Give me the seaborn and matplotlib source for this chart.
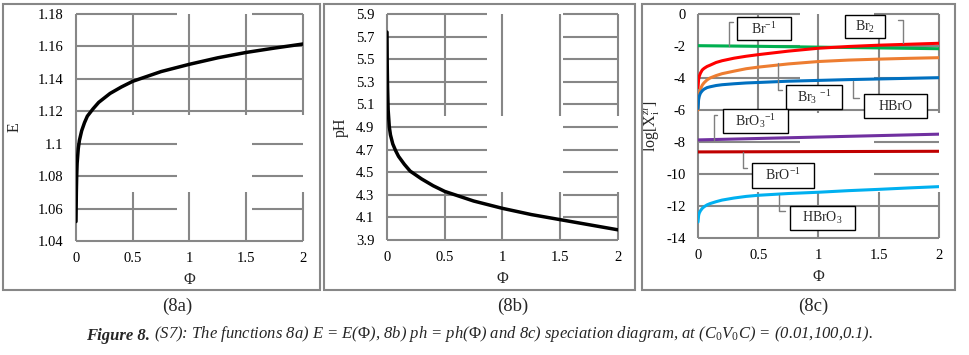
import numpy as np
import pandas as pd
import matplotlib
matplotlib.use("Agg")
import matplotlib.pyplot as plt
import seaborn as sns
from matplotlib.patches import Rectangle

# ---------------- data ----------------
phi_a = [0, 0.003, 0.006, 0.01, 0.02, 0.03, 0.05, 0.075, 0.1, 0.15, 0.2, 0.3,
         0.4, 0.5, 0.75, 1.0, 1.25, 1.5, 1.75, 2.0]
E_vals = [1.052, 1.070, 1.080, 1.088, 1.097, 1.102, 1.108, 1.113, 1.117, 1.1215,
          1.1255, 1.131, 1.135, 1.1385, 1.1445, 1.149, 1.153, 1.1563, 1.159, 1.1615]

phi_b = [0, 0.002, 0.005, 0.01, 0.02, 0.03, 0.05, 0.075, 0.1, 0.15, 0.2, 0.3,
         0.4, 0.5, 0.75, 1.0, 1.25, 1.5, 1.75, 2.0]
pH_vals = [5.74, 5.45, 5.25, 5.05, 4.90, 4.83, 4.75, 4.69, 4.64, 4.57, 4.51, 4.44,
           4.38, 4.33, 4.245, 4.18, 4.125, 4.08, 4.035, 3.99]

phi_c = [0, 0.005, 0.01, 0.02, 0.035, 0.05, 0.075, 0.1, 0.15, 0.2, 0.3, 0.4,
         0.5, 0.75, 1.0, 1.25, 1.5, 1.75, 2.0]
log_Br2 = [-4.6, -4.1, -3.9, -3.7, -3.5, -3.4, -3.28, -3.2, -3.03, -2.92, -2.76,
           -2.64, -2.54, -2.32, -2.14, -2.03, -1.95, -1.89, -1.83]
log_Br3 = [-6.0, -5.2, -4.95, -4.7, -4.45, -4.3, -4.12, -4.0, -3.85, -3.73, -3.57,
           -3.42, -3.32, -3.12, -2.97, -2.88, -2.82, -2.77, -2.73]
log_HBrO = [-5.9, -5.35, -5.15, -4.95, -4.8, -4.7, -4.6, -4.55, -4.47, -4.42, -4.36,
            -4.31, -4.28, -4.2, -4.15, -4.1, -4.06, -4.02, -3.98]
log_HBrO3 = [-13.0, -12.6, -12.45, -12.3, -12.15, -12.05, -11.93, -11.85, -11.73,
             -11.63, -11.5, -11.4, -11.33, -11.22, -11.14, -11.04, -10.96, -10.87, -10.79]
phi_flat = [0, 0.5, 1.0, 1.5, 2.0]
log_Br = [-1.98, -2.02, -2.07, -2.12, -2.17]
log_BrO3 = [-7.87, -7.78, -7.69, -7.60, -7.51]
log_BrO = [-8.62, -8.61, -8.60, -8.59, -8.58]

x_ticks = [0, 0.5, 1, 1.5, 2]
x_labels = ["0", "0.5", "1", "1.5", "2"]
E_ticks = [1.04, 1.06, 1.08, 1.10, 1.12, 1.14, 1.16, 1.18]
E_labels = ["1.04", "1.06", "1.08", "1.1", "1.12", "1.14", "1.16", "1.18"]
pH_ticks = [3.9, 4.1, 4.3, 4.5, 4.7, 4.9, 5.1, 5.3, 5.5, 5.7, 5.9]
pH_labels = ["3.9", "4.1", "4.3", "4.5", "4.7", "4.9", "5.1", "5.3", "5.5", "5.7", "5.9"]
log_ticks = [0, -2, -4, -6, -8, -10, -12, -14]
log_labels = ["0", "-2", "-4", "-6", "-8", "-10", "-12", "-14"]

species = ["Br-1", "Br2", "Br3-1", "HBrO", "BrO3-1", "BrO-1", "HBrO3"]
colors = {"Br-1": "#00B050", "Br2": "#FF0000", "Br3-1": "#ED7D31", "HBrO": "#0070C0",
          "BrO3-1": "#7030A0", "BrO-1": "#C00000", "HBrO3": "#00B0F0"}

# ---------------- style ----------------
sns.set_theme(style="white")
plt.rcParams["font.family"] = ["Liberation Serif", "DejaVu Serif"]
plt.rcParams["mathtext.fontset"] = "custom"
plt.rcParams["mathtext.rm"] = "Liberation Serif"
plt.rcParams["mathtext.it"] = "Liberation Serif:italic"
plt.rcParams["mathtext.bf"] = "Liberation Serif:bold"
plt.rcParams["axes.unicode_minus"] = False

GRID = "#878787"
GLW = 1.5
TICK_FS = 10.5

fig = plt.figure(figsize=(9.7, 3.55), dpi=100)
W, H = 970.0, 355.0


def add_axes_px(l, r, t, b):
    return fig.add_axes([l / W, 1 - b / H, (r - l) / W, (b - t) / H])


def draw_grid(ax, xs, ys, hgap, hrows, vcols):
    x0, x1 = ax.get_xlim()
    y0, y1 = ax.get_ylim()
    for y in ys:
        if any(abs(y - r) < 1e-9 for r in hrows):
            segs = [(x0, hgap[0]), (hgap[1], x1)]
        else:
            segs = [(x0, x1)]
        for a, b in segs:
            ax.plot([a, b], [y, y], color=GRID, lw=GLW, zorder=1, clip_on=False,
                    solid_capstyle="butt")
    for x in xs:
        gap = None
        for c, g in vcols:
            if abs(x - c) < 1e-9:
                gap = g
        segs = [(y0, gap[0]), (gap[1], y1)] if gap is not None else [(y0, y1)]
        for a, b in segs:
            ax.plot([x, x], [a, b], color=GRID, lw=GLW, zorder=1, clip_on=False,
                    solid_capstyle="butt")


def style_axes(ax, yticks, ylabels, ylim):
    ax.set_xlim(0, 2)
    ax.set_ylim(*ylim)
    ax.set_xticks(x_ticks)
    ax.set_xticklabels(x_labels)
    ax.set_yticks(yticks)
    ax.set_yticklabels(ylabels)
    for s in ax.spines.values():
        s.set_visible(False)
    ax.tick_params(axis="both", length=0, labelsize=TICK_FS, colors="black")
    ax.tick_params(axis="y", pad=9)
    ax.tick_params(axis="x", pad=8)
    ax.set_facecolor("none")


# outer frames
for l, r in [(3, 320), (324, 635), (642, 955)]:
    fig.add_artist(Rectangle((l / W, 1 - 290 / H), (r - l) / W, (290 - 4) / H,
                             transform=fig.transFigure, fill=False,
                             edgecolor=GRID, lw=1.5))

# ---------------- panel a ----------------
ax1 = add_axes_px(76, 303, 14, 241)
style_axes(ax1, E_ticks, E_labels, (1.04, 1.18))
vga = (1.0705, 1.1177)
draw_grid(ax1, x_ticks, E_ticks, (0.89, 1.55), [1.06, 1.08, 1.10, 1.18],
          [(0.5, vga), (1, vga), (1.5, vga), (2, vga)])
df_a = pd.DataFrame({"phi": phi_a, "E": E_vals})
sns.lineplot(data=df_a, x="phi", y="E", ax=ax1, color="black", lw=2.5,
             sort=False, estimator=None, zorder=3)
ax1.set_ylabel("E", fontsize=11.5, labelpad=11)
ax1.set_xlabel("Φ", fontsize=11.5, labelpad=5)

# ---------------- panel b ----------------
ax2 = add_axes_px(387, 618, 14, 240)
style_axes(ax2, pH_ticks, pH_labels, (3.9, 5.9))
vgb = (4.323, 4.995)
draw_grid(ax2, x_ticks, pH_ticks, (0.87, 1.52), pH_ticks[1:],
          [(0.5, vgb), (1, vgb), (1.5, vgb), (2, vgb)])
df_b = pd.DataFrame({"phi": phi_b, "pH": pH_vals})
sns.lineplot(data=df_b, x="phi", y="pH", ax=ax2, color="black", lw=2.5,
             sort=False, estimator=None, zorder=3)
ax2.set_ylabel("pH", fontsize=11.5, labelpad=5)
ax2.set_xlabel("Φ", fontsize=11.5, labelpad=5)

# ---------------- panel c ----------------
ax3 = add_axes_px(698, 939, 14, 238)
style_axes(ax3, log_ticks, log_labels, (-14, 0))
vg1 = (-11.1, -6.2)
vg2 = (-11.1, -5.0)
draw_grid(ax3, x_ticks, log_ticks, (0.85, 1.46), [0, -2, -4, -8, -10],
          [(0.5, vg1), (1, vg1), (1.5, vg2), (2, vg1)])

frames = []
for name, ph, vals in [("Br-1", phi_flat, log_Br), ("Br2", phi_c, log_Br2),
                       ("Br3-1", phi_c, log_Br3), ("HBrO", phi_c, log_HBrO),
                       ("BrO3-1", phi_flat, log_BrO3), ("BrO-1", phi_flat, log_BrO),
                       ("HBrO3", phi_c, log_HBrO3)]:
    frames.append(pd.DataFrame({"phi": ph, "logX": vals, "species": name}))
df_c = pd.concat(frames, ignore_index=True)
sns.lineplot(data=df_c, x="phi", y="logX", hue="species", palette=colors,
             hue_order=species, ax=ax3, lw=2.2, sort=False, estimator=None,
             legend=False, zorder=3)
ax3.set_ylabel(r"log[X$_\mathrm{i}^{\mathit{zi}}$]", fontsize=11.5, labelpad=3)
ax3.set_xlabel("Φ", fontsize=11.5, labelpad=5)

# label boxes: (text, box x0, x1, y0, y1, leader polyline)
boxes = [
    (r"Br$^{-1}$", 0.32, 0.77, -1.63, -0.19, [(0.29, -0.5), (0.254, -0.5), (0.254, -2.0)]),
    (r"Br$_2$", 1.22, 1.55, -1.5, -0.06, [(1.66, -0.375), (1.70, -0.375), (1.70, -1.81)]),
    (r"Br$_3$ $^{-1}$", 0.733, 1.197, -5.94, -4.44, [(0.66, -3.06), (0.66, -4.75), (0.70, -4.75)]),
    ("HBrO", 1.38, 1.90, -6.5, -5.0, [(1.288, -4.19), (1.288, -5.25), (1.34, -5.25)]),
    (r"BrO$_3$$^{-1}$", 0.21, 0.75, -7.44, -5.94, [(0.16, -6.31), (0.13, -6.31), (0.13, -7.88)]),
    (r"BrO$^{-1}$", 0.45, 0.96, -10.88, -9.31, [(0.37, -8.63), (0.37, -9.63), (0.41, -9.63)]),
    (r"HBrO$_3$", 0.76, 1.30, -13.5, -12.0, [(0.67, -11.31), (0.67, -12.31), (0.72, -12.31)]),
]
for txt, bx0, bx1, by0, by1, lead in boxes:
    ax3.add_patch(Rectangle((bx0, by0), bx1 - bx0, by1 - by0, facecolor="white",
                            edgecolor="black", lw=1.0, zorder=5))
    ax3.text((bx0 + bx1) / 2, (by0 + by1) / 2, txt, ha="center", va="center",
             fontsize=10, zorder=6)
    lx, ly = zip(*lead)
    ax3.plot(lx, ly, color="#7f7f7f", lw=1.0, zorder=4)

# ---------------- panel captions ----------------
for x, t in [(177, "(8a)"), (513, "(8b)"), (813, "(8c)")]:
    fig.text(x / W, 1 - 306 / H, t, ha="center", va="center", fontsize=13.5)

t1 = fig.text(86 / W, 1 - 340 / H, "Figure 8.", ha="left", va="baseline",
              fontsize=12, fontstyle="italic", fontweight="bold")
fig.canvas.draw()
plt.annotate(r" (S7): The functions 8a) E = E($\mathit{\Phi}$), 8b) ph = ph($\mathit{\Phi}$) and 8c) "
             r"speciation diagram, at (C$_{0}$V$_{0}$C) = (0.01,100,0.1).",
             xy=(1, 0), xycoords=t1, va="bottom", ha="left",
             fontsize=12, fontstyle="italic", annotation_clip=False)

fig.savefig("out.png", dpi=100)
